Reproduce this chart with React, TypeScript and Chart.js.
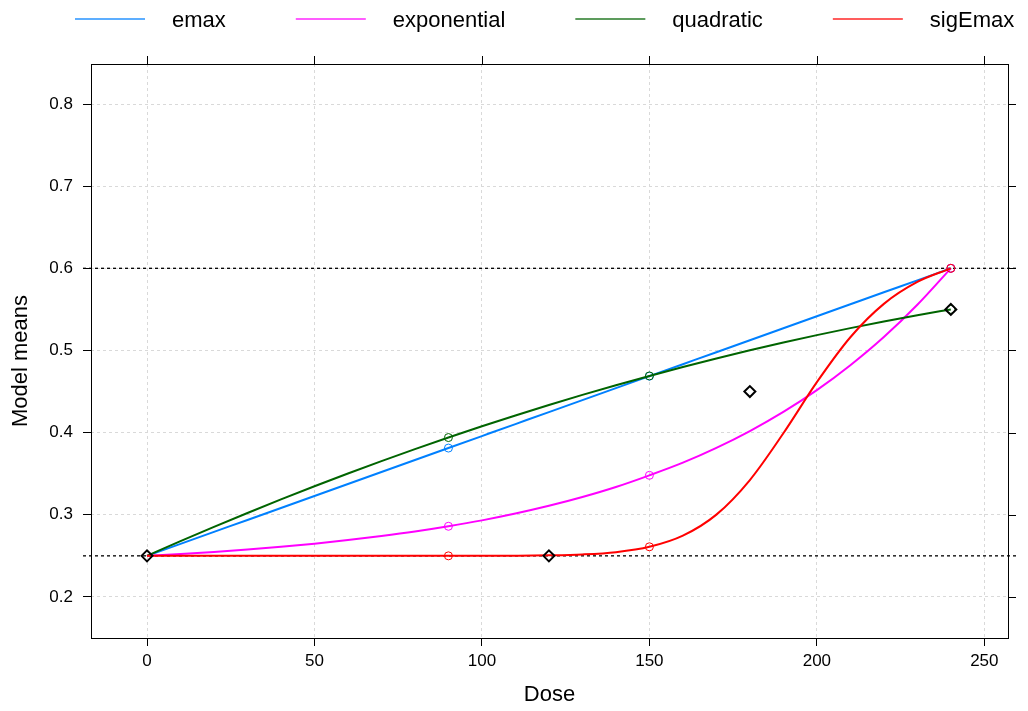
import React, { useEffect, useRef } from "react";
import { Chart, registerables } from "chart.js";

Chart.register(...registerables);

// Dose grid on which the fitted model means are listed
const doses = [0, 10, 20, 30, 40, 50, 60, 70, 80, 90, 100, 110, 120, 130, 140, 150, 160, 170, 180, 190, 200, 210, 220, 230, 240];

const emaxMeans = [0.25, 0.2646, 0.2792, 0.2937, 0.3083, 0.3229, 0.3375, 0.3521, 0.3666, 0.3812, 0.3958, 0.4104, 0.425, 0.4395, 0.4541, 0.4687, 0.4833, 0.4979, 0.5124, 0.527, 0.5416, 0.5562, 0.5708, 0.5853, 0.6];
const exponentialMeans = [0.25, 0.2523, 0.2548, 0.2577, 0.2611, 0.2648, 0.2692, 0.2741, 0.2796, 0.286, 0.2932, 0.3015, 0.3109, 0.3216, 0.3338, 0.348, 0.3634, 0.3814, 0.4019, 0.4252, 0.4517, 0.482, 0.5163, 0.5556, 0.6];
const quadraticMeans = [0.25, 0.2679, 0.2853, 0.3022, 0.3187, 0.3347, 0.3502, 0.3653, 0.3799, 0.394, 0.4077, 0.4209, 0.4336, 0.4459, 0.4577, 0.469, 0.4799, 0.4903, 0.5002, 0.5097, 0.5187, 0.5272, 0.5353, 0.5429, 0.55];
const sigEmaxMeans = [0.25, 0.25, 0.25, 0.25, 0.25, 0.25, 0.25, 0.25, 0.25, 0.25, 0.2501, 0.2502, 0.2506, 0.2517, 0.2545, 0.261, 0.2746, 0.3002, 0.3423, 0.3992, 0.4614, 0.5161, 0.5567, 0.5834, 0.6];

// Doses where each model curve carries an open circle
const markedDoses = [90, 150, 240];

// Target response profile (diamonds)
const targetDoses = [0, 120, 180, 240];
const targetMeans = [0.25, 0.25, 0.45, 0.55];

// Horizontal reference levels (placebo and maximum effect)
const referenceLevels = [0.25, 0.6];

const modelNames = ["emax", "exponential", "quadratic", "sigEmax"];
const modelColors = ["#0080ff", "#ff00ff", "#006400", "#ff0000"];
const modelSeries = [emaxMeans, exponentialMeans, quadraticMeans, sigEmaxMeans];

const xTicks = [0, 50, 100, 150, 200, 250];
const xTickLabels = ["0", "50", "100", "150", "200", "250"];
const yTicks = [0.2, 0.3, 0.4, 0.5, 0.6, 0.7, 0.8];
const yTickLabels = ["0.2", "0.3", "0.4", "0.5", "0.6", "0.7", "0.8"];

const FONT = "'Liberation Sans', Arial, Helvetica, sans-serif";

const framePlugin = {
  id: "frame",
  beforeDatasetsDraw(chart: any) {
    const { ctx, chartArea, scales } = chart;
    ctx.save();
    ctx.strokeStyle = "#000";
    ctx.lineWidth = 1.3;
    ctx.setLineDash([3, 3]);
    for (const level of referenceLevels) {
      const y = scales.y.getPixelForValue(level);
      ctx.beginPath();
      ctx.moveTo(chartArea.left - 8, y);
      ctx.lineTo(chartArea.right + 8, y);
      ctx.stroke();
    }
    ctx.restore();
  },
  afterDraw(chart: any) {
    const { ctx, chartArea, scales } = chart;
    const { left, right, top, bottom } = chartArea;
    ctx.save();
    // panel box
    ctx.strokeStyle = "#000";
    ctx.lineWidth = 1;
    ctx.setLineDash([]);
    ctx.strokeRect(Math.round(left) + 0.5, Math.round(top) + 0.5, Math.round(right - left), Math.round(bottom - top));
    // ticks on top and right sides
    ctx.beginPath();
    for (const v of xTicks) {
      const x = Math.round(scales.x.getPixelForValue(v)) + 0.5;
      ctx.moveTo(x, top);
      ctx.lineTo(x, top - 8);
    }
    for (const v of yTicks) {
      const y = Math.round(scales.y.getPixelForValue(v)) + 0.5;
      ctx.moveTo(right, y);
      ctx.lineTo(right + 8, y);
    }
    ctx.stroke();

    // axis titles
    ctx.fillStyle = "#000";
    ctx.font = `22px ${FONT}`;
    ctx.textAlign = "center";
    ctx.textBaseline = "middle";
    ctx.fillText("Dose", (left + right) / 2, 695);
    ctx.save();
    ctx.translate(21, 361);
    ctx.rotate(-Math.PI / 2);
    ctx.fillText("Model means", 0, 0);
    ctx.restore();

    // key across the top
    ctx.font = `22px ${FONT}`;
    ctx.textAlign = "left";
    ctx.textBaseline = "alphabetic";
    let x = 75;
    for (let i = 0; i < modelNames.length; i++) {
      const name = modelNames[i];
      ctx.save();
      ctx.strokeStyle = modelColors[i];
      ctx.lineWidth = 1.5;
      ctx.globalAlpha = 0.85;
      ctx.beginPath();
      ctx.moveTo(x, 19);
      ctx.lineTo(x + 70, 19);
      ctx.stroke();
      ctx.restore();
      x += 70 + 27;
      ctx.fillStyle = "#000";
      ctx.fillText(name, x, 27);
      x += ctx.measureText(name).width + 70;
    }
    ctx.restore();
  },
};

export default function App() {
  const canvasRef = useRef<HTMLCanvasElement | null>(null);

  useEffect(() => {
    const canvas = canvasRef.current;
    if (!canvas) return;

    const order = [4, 3, 2, 1];
    const datasets: any[] = modelSeries.map((series, i) => ({
      label: modelNames[i],
      data: doses.map((d, j) => ({ x: d, y: series[j] })),
      borderColor: modelColors[i],
      borderWidth: 2,
      cubicInterpolationMode: "monotone",
      pointRadius: (c: any) => (c.raw && markedDoses.includes(c.raw.x) ? 4 : 0),
      pointHoverRadius: 0,
      pointBorderColor: modelColors[i],
      pointBackgroundColor: "rgba(0,0,0,0)",
      pointBorderWidth: 1,
      fill: false,
      order: order[i],
    }));
    datasets.push({
      label: "target",
      data: targetDoses.map((d, j) => ({ x: d, y: targetMeans[j] })),
      showLine: false,
      pointStyle: "rectRot",
      pointRadius: 5.5,
      pointBorderWidth: 2,
      pointBorderColor: "#000",
      pointBackgroundColor: "rgba(0,0,0,0)",
      order: 0,
    });

    const chart = new Chart(canvas, {
      type: "line",
      data: { datasets },
      options: {
        animation: false,
        responsive: false,
        devicePixelRatio: 1,
        layout: { padding: { left: 0, top: 64, right: 20, bottom: 0 } },
        plugins: { legend: { display: false }, tooltip: { enabled: false } },
        events: [],
        scales: {
          x: {
            type: "linear",
            min: -16.72,
            max: 257.07,
            afterBuildTicks: (s: any) => {
              s.ticks = xTicks.map((value) => ({ value }));
            },
            afterFit: (s: any) => {
              s.height = 73;
            },
            ticks: {
              autoSkip: false,
              maxRotation: 0,
              color: "#000",
              padding: 5,
              font: { family: FONT, size: 17 },
              callback: (_v: any, i: number) => xTickLabels[i],
            },
            grid: {
              color: "#d9d9d9",
              lineWidth: 1,
              drawTicks: true,
              tickLength: 8,
              tickColor: "#000",
              tickWidth: 1,
            },
            border: { display: false, dash: [3, 3] },
          },
          y: {
            type: "linear",
            min: 0.15,
            max: 0.8487,
            afterBuildTicks: (s: any) => {
              s.ticks = yTicks.map((value) => ({ value }));
            },
            afterFit: (s: any) => {
              s.width = 91;
            },
            ticks: {
              color: "#000",
              padding: 10,
              font: { family: FONT, size: 17 },
              callback: (_v: any, i: number) => yTickLabels[i],
            },
            grid: {
              color: "#d9d9d9",
              lineWidth: 1,
              drawTicks: true,
              tickLength: 8,
              tickColor: "#000",
              tickWidth: 1,
            },
            border: { display: false, dash: [3, 3] },
          },
        },
      },
      plugins: [framePlugin],
    } as any);

    return () => chart.destroy();
  }, []);

  return (
    <div style={{ position: "absolute", left: 0, top: 0, width: 1028, height: 711, background: "#fff" }}>
      <canvas ref={canvasRef} width={1028} height={711} style={{ display: "block" }} />
    </div>
  );
}
